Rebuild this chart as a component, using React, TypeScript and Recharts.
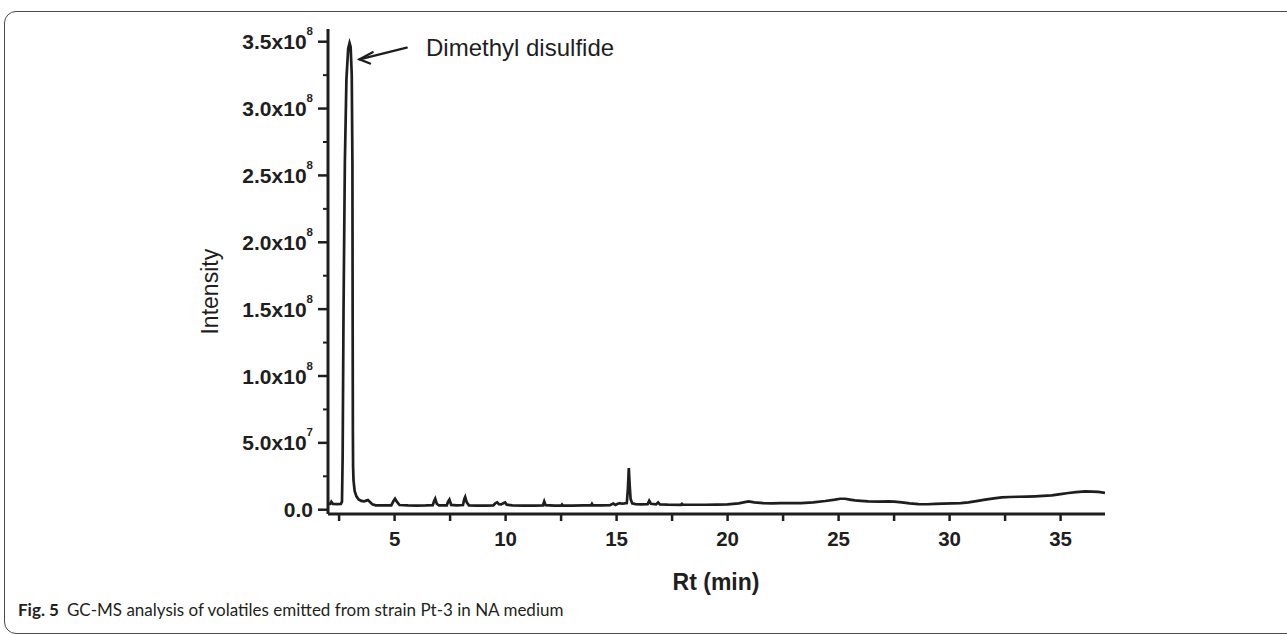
import { LineChart, Line, XAxis, YAxis } from 'recharts';

// retention time (min)
const retentionTimes = [
  2.0, 2.1, 2.15, 2.22, 2.4, 2.58, 2.63, 2.66, 2.7, 2.76,
  2.83, 2.91, 2.97, 3.02, 3.07, 3.1, 3.11, 3.12, 3.13, 3.15,
  3.2, 3.28, 3.38, 3.5, 3.62, 3.72, 3.8, 3.88, 4.0, 4.15,
  4.5, 4.85, 4.95, 5.02, 5.1, 5.22, 5.6, 6.0, 6.4, 6.72,
  6.78, 6.83, 6.9, 7.0, 7.35, 7.41, 7.47, 7.55, 7.8, 8.08,
  8.14, 8.18, 8.25, 8.35, 8.7, 9.1, 9.45, 9.55, 9.62, 9.7,
  9.8, 9.92, 9.98, 10.05, 10.3, 10.8, 11.3, 11.68, 11.74, 11.8,
  12.2, 12.5, 12.54, 12.58, 13.0, 13.5, 13.85, 13.89, 13.93, 14.3,
  14.7, 14.85, 14.95, 15.05, 15.15, 15.25, 15.35, 15.46, 15.51, 15.55,
  15.59, 15.63, 15.7, 15.85, 16.1, 16.4, 16.47, 16.55, 16.78, 16.87,
  16.95, 17.3, 17.9, 17.94, 17.98, 18.5, 19.0, 19.5, 20.0, 20.5,
  20.94, 21.2, 21.6, 22.0, 22.4, 22.8, 23.3, 23.86, 24.4, 24.84,
  25.07, 25.29, 25.5, 25.74, 26.0, 26.34, 26.8, 27.24, 27.5, 27.85,
  28.2, 28.6, 29.0, 29.35, 29.7, 30.1, 30.5, 30.85, 31.2, 31.6,
  32.0, 32.35, 32.7, 33.1, 33.5, 33.85, 34.2, 34.6, 35.0, 35.35,
  35.7, 36.1, 36.4, 36.7, 37.0,
];

// intensity, in units of 10^6
const intensityMillions = [
  4.3, 4.4, 6.0, 4.4, 4.2, 4.4, 6.0, 40, 150, 260,
  322, 345, 349, 346, 325, 260, 150, 60, 32, 22,
  14, 10, 7.6, 6.6, 6.2, 6.8, 7.3, 6.0, 4.0, 3.3,
  3.2, 3.3, 6.5, 8.2, 6.0, 3.5, 3.2, 3.1, 3.2, 3.4,
  6.5, 8.2, 4.5, 3.2, 3.3, 6.0, 7.6, 3.6, 3.2, 3.5,
  8.0, 9.5, 5.5, 3.3, 3.1, 3.0, 3.3, 5.0, 5.5, 4.2,
  4.0, 5.0, 5.5, 3.8, 3.2, 3.0, 3.0, 3.2, 6.2, 3.4,
  3.0, 3.0, 3.9, 3.0, 3.1, 3.2, 3.3, 4.4, 3.3, 3.2,
  3.4, 4.6, 3.6, 4.5, 4.9, 4.5, 4.7, 5.0, 16, 31.2,
  18, 8.0, 4.8, 4.2, 4.0, 4.2, 6.7, 4.4, 4.0, 5.5,
  4.0, 3.8, 3.7, 4.4, 3.7, 3.7, 3.7, 3.8, 4.0, 4.8,
  6.2, 5.5, 5.0, 4.8, 4.9, 5.0, 5.0, 5.5, 6.5, 7.5,
  8.2, 8.2, 7.6, 7.0, 6.6, 6.2, 6.1, 6.2, 6.0, 5.5,
  4.8, 4.2, 4.1, 4.3, 4.5, 4.7, 5.0, 5.5, 6.4, 7.5,
  8.5, 9.2, 9.5, 9.7, 9.8, 10.0, 10.3, 10.7, 11.6, 12.5,
  13.2, 13.7, 13.6, 13.3, 12.6,
];

const xTicks = [2.5, 5, 7.5, 10, 12.5, 15, 17.5, 20, 22.5, 25, 27.5, 30, 32.5, 35];
const yTicks = [0, 25, 50, 75, 100, 125, 150, 175, 200, 225, 250, 275, 300, 325, 350];

const peakName = 'Dimethyl disulfide';
const xTitle = 'Rt (min)';
const yTitle = 'Intensity';

const data = retentionTimes.map((rt, i) => ({ rt, intensity: intensityMillions[i] }));

const ink = '#1e1e1e';
const sans = '"Liberation Sans", Arial, Helvetica, sans-serif';

function sciLabel(v: number) {
  if (v === 0) return { mant: '0.0', exp: '' };
  const full = v * 1e6;
  const exp = Math.floor(Math.log10(full) + 1e-9);
  const mant = (full / Math.pow(10, exp)).toFixed(1);
  return { mant: `${mant}x10`, exp: String(exp) };
}

const YTick = (props: any) => {
  const { x, y, payload } = props;
  const v = payload.value;
  const major = v % 50 === 0;
  if (!major) {
    return <line x1={x - 5} x2={x} y1={y} y2={y} stroke={ink} strokeWidth={2} />;
  }
  const { mant, exp } = sciLabel(v);
  return (
    <g>
      <line x1={x - 10} x2={x} y1={y} y2={y} stroke={ink} strokeWidth={2.5} />
      <text
        x={x - 15}
        y={y + 7.5}
        textAnchor="end"
        fontFamily={sans}
        fontWeight="bold"
        fontSize={21}
        fill={ink}
      >
        {mant}
        {exp && (
          <tspan dy={-14} fontSize={11.5}>
            {exp}
          </tspan>
        )}
      </text>
    </g>
  );
};

const XTick = (props: any) => {
  const { x, y, payload } = props;
  const v = payload.value;
  const major = v % 5 === 0;
  return (
    <g>
      <line x1={x} x2={x} y1={y} y2={y + 7} stroke={ink} strokeWidth={2.5} />
      {major && (
        <text
          x={x}
          y={y + 32}
          textAnchor="middle"
          fontFamily={sans}
          fontWeight="bold"
          fontSize={20.5}
          fill={ink}
        >
          {v}
        </text>
      )}
    </g>
  );
};

export default function App() {
  return (
    <div
      style={{
        position: 'absolute',
        left: 0,
        top: 0,
        width: 1287,
        height: 634,
        background: '#fff',
        overflow: 'hidden',
      }}
    >
      {/* figure frame */}
      <div
        style={{
          position: 'absolute',
          left: 4,
          top: 11,
          width: 1320,
          height: 621,
          border: '1.5px solid #4a4a4a',
          borderRadius: 12,
        }}
      />

      <div style={{ position: 'absolute', left: 0, top: 0 }}>
        <LineChart
          width={1287}
          height={634}
          data={data}
          margin={{ top: 29, right: 182, bottom: 90, left: 268 }}
        >
          <XAxis
            dataKey="rt"
            type="number"
            domain={[2, 37]}
            allowDataOverflow
            ticks={xTicks}
            interval={0}
            height={30}
            tickSize={0}
            tickMargin={0}
            tickLine={false}
            axisLine={{ stroke: ink, strokeWidth: 3 }}
            tick={<XTick />}
          />
          <YAxis
            type="number"
            domain={[-3.2, 359.5]}
            allowDataOverflow
            ticks={yTicks}
            interval={0}
            width={60}
            tickSize={0}
            tickMargin={0}
            tickLine={false}
            axisLine={{ stroke: ink, strokeWidth: 3 }}
            tick={<YTick />}
          />
          <Line
            type="linear"
            dataKey="intensity"
            stroke={ink}
            strokeWidth={2.7}
            dot={false}
            isAnimationActive={false}
          />
        </LineChart>
      </div>

      {/* titles and annotation */}
      <svg
        width={1287}
        height={634}
        style={{ position: 'absolute', left: 0, top: 0, pointerEvents: 'none' }}
      >
        <text x={426} y={56} fontFamily={sans} fontSize={24} fill={ink}>
          {peakName}
        </text>
        <g stroke={ink} strokeWidth={2.3} fill="none" strokeLinecap="round">
          <line x1={406.7} y1={47.7} x2={359.5} y2={59.3} />
          <polyline points="372.7,52.3 359.5,59.3 370,63.5" />
        </g>
        <text
          x={716}
          y={590}
          textAnchor="middle"
          fontFamily={sans}
          fontWeight="bold"
          fontSize={23}
          fill={ink}
        >
          {xTitle}
        </text>
        <text
          x={218}
          y={291.7}
          transform="rotate(-90 218 291.7)"
          textAnchor="middle"
          fontFamily={sans}
          fontSize={23}
          fill={ink}
        >
          {yTitle}
        </text>
      </svg>

      <div
        style={{
          position: 'absolute',
          left: 18,
          top: 600,
          fontFamily: 'Lato, "Noto Sans", sans-serif',
          fontSize: 17,
          lineHeight: '20px',
          color: '#231f20',
          whiteSpace: 'nowrap',
        }}
      >
        <b>Fig. 5</b>
        <span style={{ marginLeft: 8 }}>
          GC-MS analysis of volatiles emitted from strain Pt-3 in NA medium
        </span>
      </div>
    </div>
  );
}
